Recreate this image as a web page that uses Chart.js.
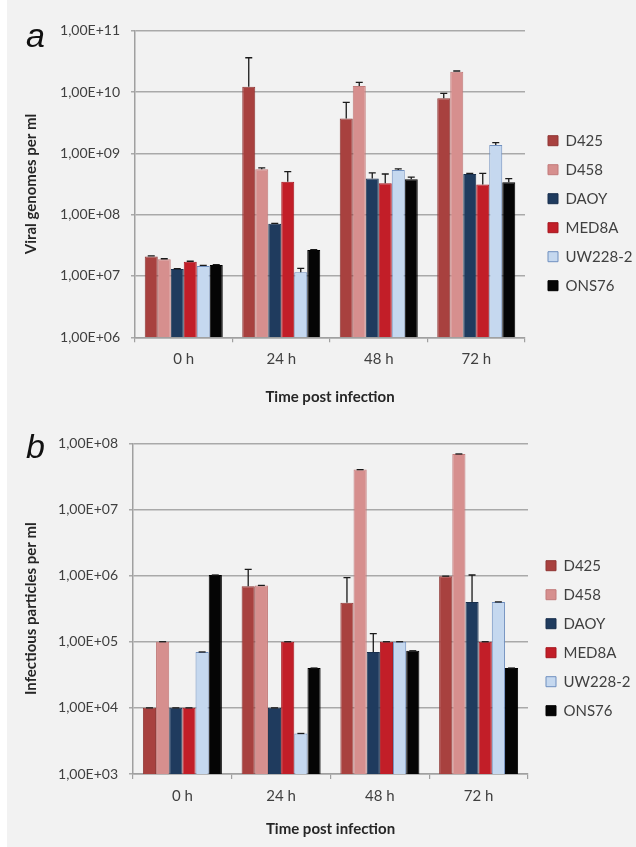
<!DOCTYPE html>
<html>
<head>
<meta charset="utf-8">
<script src="https://cdn.jsdelivr.net/npm/chart.js@4.4.0/dist/chart.umd.min.js"></script>
<style>
  body { margin: 0; background: #fff; width: 636px; height: 847px; overflow: hidden; }
  #panel { position: absolute; left: 7px; top: 0; width: 629px; height: 847px; background: #f2f2f2; }
  .box { position: absolute; left: 0; width: 629px; }
  .letter { position: absolute; font-family: "Liberation Sans", Arial, sans-serif; font-style: italic;
            font-size: 34px; line-height: 34px; color: #111; }
</style>
</head>
<body>
<div id="panel">
  <div class="box" style="top:0;height:420px"><canvas id="chartA" width="629" height="420"></canvas></div>
  <div class="box" style="top:420px;height:427px"><canvas id="chartB" width="629" height="427"></canvas></div>
  <div class="letter" style="left:19px;top:18px">a</div>
  <div class="letter" style="left:19px;top:429px">b</div>
</div>
<script>
// categories and cell lines
const categories = ['0 h', '24 h', '48 h', '72 h'];
const lines = ['D425', 'D458', 'DAOY', 'MED8A', 'UW228-2', 'ONS76'];

// a - viral genomes per ml
const genD425  = [2.07e7, 1.22e10, 3.7e9, 7.9e9];
const genD458  = [1.87e7, 5.5e8, 1.25e10, 2.14e10];
const genDAOY  = [1.30e7, 7.1e7, 3.9e8, 4.6e8];
const genMED8A = [1.71e7, 3.44e8, 3.25e8, 3.1e8];
const genUW228 = [1.46e7, 1.15e7, 5.35e8, 1.37e9];
const genONS76 = [1.51e7, 2.65e7, 3.78e8, 3.37e8];
// error (+) for a
const errGenD425  = [5e5, 2.4e10, 3.1e9, 1.6e9];
const errGenD458  = [4e5, 3e7, 1.9e9, 6e8];
const errGenDAOY  = [2e5, 1e6, 9e7, 1e7];
const errGenMED8A = [3e5, 1.6e8, 1.35e8, 1.6e8];
const errGenUW228 = [3e5, 1.8e6, 2.5e7, 1.2e8];
const errGenONS76 = [2e5, 5e5, 3e7, 5e7];

// b - infectious particles per ml
const infD425  = [1e4, 6.9e5, 3.9e5, 9.8e5];
const infD458  = [1e5, 7.1e5, 4.0e7, 6.9e7];
const infDAOY  = [1e4, 1e4, 7.0e4, 4.0e5];
const infMED8A = [1e4, 1e5, 1e5, 1e5];
const infUW228 = [7e4, 4.1e3, 1e5, 4.0e5];
const infONS76 = [1.02e6, 4.0e4, 7.3e4, 4.0e4];
// error (+) for b
const errInfD425  = [0, 5.5e5, 5.4e5, 0];
const errInfD458  = [0, 0, 0, 0];
const errInfDAOY  = [0, 0, 6.3e4, 6.2e5];
const errInfMED8A = [0, 0, 0, 0];
const errInfUW228 = [0, 0, 0, 0];
const errInfONS76 = [0, 0, 0, 0];

// tick values and labels
const ticksA = [1e6, 1e7, 1e8, 1e9, 1e10, 1e11];
const tickLabelsA = ['1,00E+06', '1,00E+07', '1,00E+08', '1,00E+09', '1,00E+10', '1,00E+11'];
const ticksB = [1e3, 1e4, 1e5, 1e6, 1e7, 1e8];
const tickLabelsB = ['1,00E+03', '1,00E+04', '1,00E+05', '1,00E+06', '1,00E+07', '1,00E+08'];

const fills   = ['#a8413f', '#d68f8e', '#1f3b5e', '#c21e28', '#c5d8ef', '#050505'];
const borders = ['#8f3634', '#c27b7a', '#182f4d', '#a6171f', '#6f8fbf', '#000000'];

Chart.defaults.font.family = 'Lato';

// whiskers (upper only) drawn through the y scale
const errorBars = {
    id: 'errorBars',
    afterDatasetsDraw(chart) {
        const ctx = chart.ctx;
        const yScale = chart.scales.y;
        ctx.save();
        ctx.strokeStyle = '#1a1a1a';
        ctx.lineWidth = 1.3;
        chart.data.datasets.forEach((ds, i) => {
            chart.getDatasetMeta(i).data.forEach((bar, j) => {
                const top = yScale.getPixelForValue(ds.data[j] + ds.errors[j]);
                ctx.beginPath();
                ctx.moveTo(bar.x, bar.y);
                ctx.lineTo(bar.x, top);
                ctx.moveTo(bar.x - 3.5, top);
                ctx.lineTo(bar.x + 3.5, top);
                ctx.stroke();
            });
        });
        ctx.restore();
    }
};

// put legend where it sits in the figure
const legendPlace = {
    id: 'legendPlace',
    afterLayout(chart, args, opts) {
        const lg = chart.legend;
        const pad = lg.options.labels.padding;
        const fs = lg.options.labels.font.size;
        lg.left = opts.x - pad;
        lg.right = lg.left + 110;
        lg.top = opts.y - pad - fs / 2;
        lg.bottom = lg.top + 400;
    }
};

function makeChart(id, series, errors, tickVals, tickLabels, yTitle, g) {
    const datasets = series.map((s, i) => ({
        label: lines[i],
        data: s,
        errors: errors[i],
        backgroundColor: fills[i],
        borderColor: borders[i],
        borderWidth: 1,
        categoryPercentage: 0.8,
        barPercentage: 1.0
    }));
    return new Chart(document.getElementById(id), {
        type: 'bar',
        data: { labels: categories, datasets: datasets },
        options: {
            responsive: false,
            animation: false,
            layout: { padding: { left: 0, right: g.padRight, top: g.top, bottom: 0 } },
            plugins: {
                legend: {
                    position: 'right',
                    align: 'start',
                    maxWidth: 80,
                    labels: { boxWidth: 10, boxHeight: 10, padding: 14, color: '#404040', font: { size: 15 } }
                },
                legendPlace: { x: g.legendX, y: g.legendY },
                tooltip: { enabled: false }
            },
            scales: {
                x: {
                    grid: { drawOnChartArea: false, drawTicks: true, tickLength: 5, color: '#a0a0a0', lineWidth: 1.2 },
                    border: { color: '#a0a0a0', width: 1.5 },
                    ticks: { color: '#404040', font: { size: 15 }, padding: 8 },
                    title: { display: true, text: 'Time post infection', color: '#262626',
                             font: { size: 15, weight: 'bold' }, padding: { top: 0, bottom: g.xTitlePad } },
                    afterFit: function(scale) { scale.height = g.xHeight; }
                },
                y: {
                    type: 'logarithmic',
                    min: tickVals[0],
                    max: tickVals[tickVals.length - 1],
                    grid: { color: '#a9a9a9', lineWidth: 1.5, tickLength: 4 },
                    border: { color: '#a0a0a0', width: 1.5 },
                    afterBuildTicks: function(scale) {
                        scale.ticks = tickVals.map(v => ({ value: v }));
                    },
                    ticks: {
                        color: '#404040',
                        font: { size: 14 },
                        padding: 11,
                        callback: function(value, index) { return tickLabels[index]; }
                    },
                    title: { display: true, text: yTitle, color: '#262626',
                             font: { size: 15, weight: 'bold' }, padding: { top: 15, bottom: 0 } },
                    afterFit: function(scale) { scale.width = g.left; }
                }
            }
        },
        plugins: [errorBars, legendPlace]
    });
}

makeChart('chartA',
    [genD425, genD458, genDAOY, genMED8A, genUW228, genONS76],
    [errGenD425, errGenD458, errGenDAOY, errGenMED8A, errGenUW228, errGenONS76],
    ticksA, tickLabelsA, 'Viral genomes per ml',
    { left: 128, padRight: 31, top: 30.7, xHeight: 82.7, xTitlePad: 14, legendX: 541, legendY: 140.7 });

makeChart('chartB',
    [infD425, infD458, infDAOY, infMED8A, infUW228, infONS76],
    [errInfD425, errInfD458, errInfDAOY, errInfMED8A, errInfUW228, errInfONS76],
    ticksB, tickLabelsB, 'Infectious particles per ml',
    { left: 126, padRight: 28, top: 23.3, xHeight: 73, xTitlePad: 9, legendX: 539, legendY: 145.7 });
</script>
</body>
</html>
